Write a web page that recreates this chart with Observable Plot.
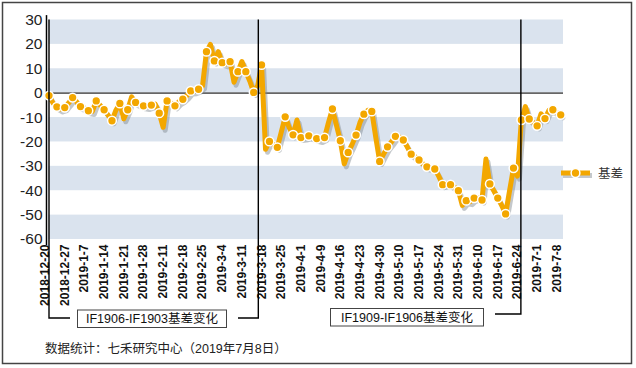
<!DOCTYPE html>
<html><head><meta charset="utf-8">
<script src="https://cdn.jsdelivr.net/npm/d3@7"></script>
<script src="https://cdn.jsdelivr.net/npm/@observablehq/plot@0.6"></script>
<style>
html,body{margin:0;padding:0;background:#fff;}
#chart{position:relative;width:636px;height:368px;}
</style></head><body><div id="chart"></div>
<script>
const dateLabels = ["2018-12-20","2018-12-27","2019-1-7","2019-1-14","2019-1-21","2019-1-28","2019-2-11","2019-2-18","2019-2-25","2019-3-4","2019-3-11","2019-3-18","2019-3-25","2019-4-1","2019-4-9","2019-4-16","2019-4-23","2019-4-30","2019-5-10","2019-5-17","2019-5-24","2019-5-31","2019-6-10","2019-6-17","2019-6-24","2019-7-1","2019-7-8"];
// daily basis values (one per trading day, 2018-12-20 .. 2019-7-8)
const basis = [
 -1,-4,-5.6,-6.5,-5.9,-4,-1.8,-3.5,-5.5,-6,
 -7.2,-7.5,-3.2,-5,-6.8,-9,-11.3,-7,-4.2,-10.5,
 -6.8,-1.5,-3.8,-4.5,-5.2,-5.5,-4.9,-4.5,-8.2,-14,
 -3.2,-4,-5.2,-3.5,-2.5,-1,0.9,1,1.6,3,
 17,20,13.2,17,12.5,12,12.9,4.5,8.8,13,
 8.8,5,0.3,3,11.6,-23,-19.8,-21,-22.2,-16,
 -9.7,-14,-17.1,-11,-18.2,-18,-17.5,-18,-18.6,-19,
 -18.2,-12,-6.5,-13,-19.5,-29,-24.3,-21,-17.2,-12,
 -8.6,-7,-7.5,-18,-28,-25,-22,-20,-17.7,-18,
 -19.2,-22,-25,-26,-27.4,-29,-30.2,-30.5,-31.1,-34,
 -37.5,-37,-37.5,-38.5,-40,-46,-44.1,-44.5,-43,-43,
 -43.8,-27,-37.2,-40,-43,-46,-49.5,-40,-30.7,-34,
 -11,-5.5,-10.6,-12,-13.4,-8.5,-10.4,-7,-6.8,-8,
 -8.9
];
const yTicks = [30,20,10,0,-10,-20,-30,-40,-50,-60];
const bandRanges = [[20,30],[0,10],[-20,-10],[-40,-30],[-60,-50]];
const seriesName = "基差";
const note1 = "IF1906-IF1903基差变化";
const note2 = "IF1909-IF1906基差变化";
const caption = "数据统计：七禾研究中心（2019年7月8日）";
const rollIndex = [53.3, 120];

const lineColor = "#F3A700";
const W = 636, H = 368, mL = 48.5, mR = 73, mT = 19.5, mB = 129;
const xDomain = [0, 130.7], yDomain = [-60, 30];
const font = "'Liberation Sans', Arial, 'Noto Sans CJK SC', sans-serif";
const data = basis.map((v, i) => ({i, v}));

const chart = Plot.plot({
  width: W, height: H,
  marginLeft: mL, marginRight: mR, marginTop: mT, marginBottom: mB,
  x: {domain: xDomain, axis: null},
  y: {domain: yDomain, axis: null},
  style: {fontFamily: font, background: "#fff", overflow: "visible"},
  marks: [
    Plot.rect(bandRanges, {y1: d => d[0], y2: d => d[1], fill: "#DAE3EE"}),
    Plot.ruleY([0], {stroke: "#666", strokeWidth: 1.8}),
    Plot.ruleX([0], {y1: 31.8, y2: -62.5, dx: -2.5, stroke: "#000", strokeWidth: 1.5}),
    Plot.line(data, {x: "i", y: "v", stroke: "#7d848c", strokeOpacity: 0.45, strokeWidth: 5, dx: 2, dy: 3, strokeLinejoin: "round"}),
    Plot.line(data, {x: "i", y: "v", stroke: lineColor, strokeWidth: 5, strokeLinejoin: "round"}),
    Plot.dot(data, {filter: d => d.i % 2 === 0, x: "i", y: "v", r: 4.4, fill: lineColor, stroke: "#fff", strokeWidth: 1.5}),
    Plot.text(yTicks, {y: d => d, text: d => String(d), frameAnchor: "left", dx: -6.5, textAnchor: "end", fontSize: 15.5, fill: "#222"}),
    Plot.text(dateLabels, {x: (d, k) => k * 5, text: d => d, frameAnchor: "bottom", dy: 5, rotate: -90, textAnchor: "end", fontSize: 12, fontWeight: "bold", fill: "#111"})
  ]
});
document.getElementById("chart").appendChild(chart);

const xs = d3.scaleLinear(xDomain, [mL, W - mR]);
const svg = d3.select(chart);
const g = svg.append("g").attr("text-anchor", "start");
// border
g.append("rect").attr("x", 2.5).attr("y", 2.5).attr("width", 629).attr("height", 361)
  .attr("fill", "none").attr("stroke", "#444").attr("stroke-width", 1.5);
// roll annotations
const xa = xs(rollIndex[0]), xb = xs(rollIndex[1]);
const path = d3.path();
path.moveTo(49, 19.5); path.lineTo(49, 318); path.lineTo(70, 318);
path.moveTo(238, 318); path.lineTo(xa, 318); path.lineTo(xa, 19.5);
path.moveTo(495, 314); path.lineTo(xb, 314); path.lineTo(xb, 19.5);
g.append("path").attr("d", path.toString()).attr("fill", "none").attr("stroke", "#000").attr("stroke-width", 1.4);
const boxes = [
  {x: 77.5, y: 310, w: 149, h: 17.5, t: note1},
  {x: 330.5, y: 308.5, w: 153, h: 17.5, t: note2}
];
for (const b of boxes) {
  g.append("rect").attr("x", b.x).attr("y", b.y).attr("width", b.w).attr("height", b.h)
    .attr("fill", "#fff").attr("stroke", "#444").attr("stroke-width", 1);
  g.append("text").attr("x", b.x + b.w / 2).attr("y", b.y + b.h / 2).attr("dy", "0.36em")
    .attr("text-anchor", "middle").attr("font-size", 12.5).attr("fill", "#111").text(b.t);
}
// legend
const lg = g.append("g");
lg.append("line").attr("x1", 563).attr("x2", 592).attr("y1", 175.5).attr("y2", 175.5)
  .attr("stroke", "#7d848c").attr("stroke-opacity", 0.45).attr("stroke-width", 5);
lg.append("line").attr("x1", 561).attr("x2", 590).attr("y1", 173).attr("y2", 173)
  .attr("stroke", lineColor).attr("stroke-width", 5);
lg.append("circle").attr("cx", 575.5).attr("cy", 173).attr("r", 4.4)
  .attr("fill", lineColor).attr("stroke", "#fff").attr("stroke-width", 1.5);
lg.append("text").attr("x", 598).attr("y", 173).attr("dy", "0.36em").attr("text-anchor", "start")
  .attr("font-size", 12.5).attr("fill", "#333").text(seriesName);
// caption
g.append("text").attr("x", 45).attr("y", 348).attr("dy", "0.36em").attr("text-anchor", "start")
  .attr("font-size", 12.5).attr("fill", "#222").text(caption);
</script></body></html>
